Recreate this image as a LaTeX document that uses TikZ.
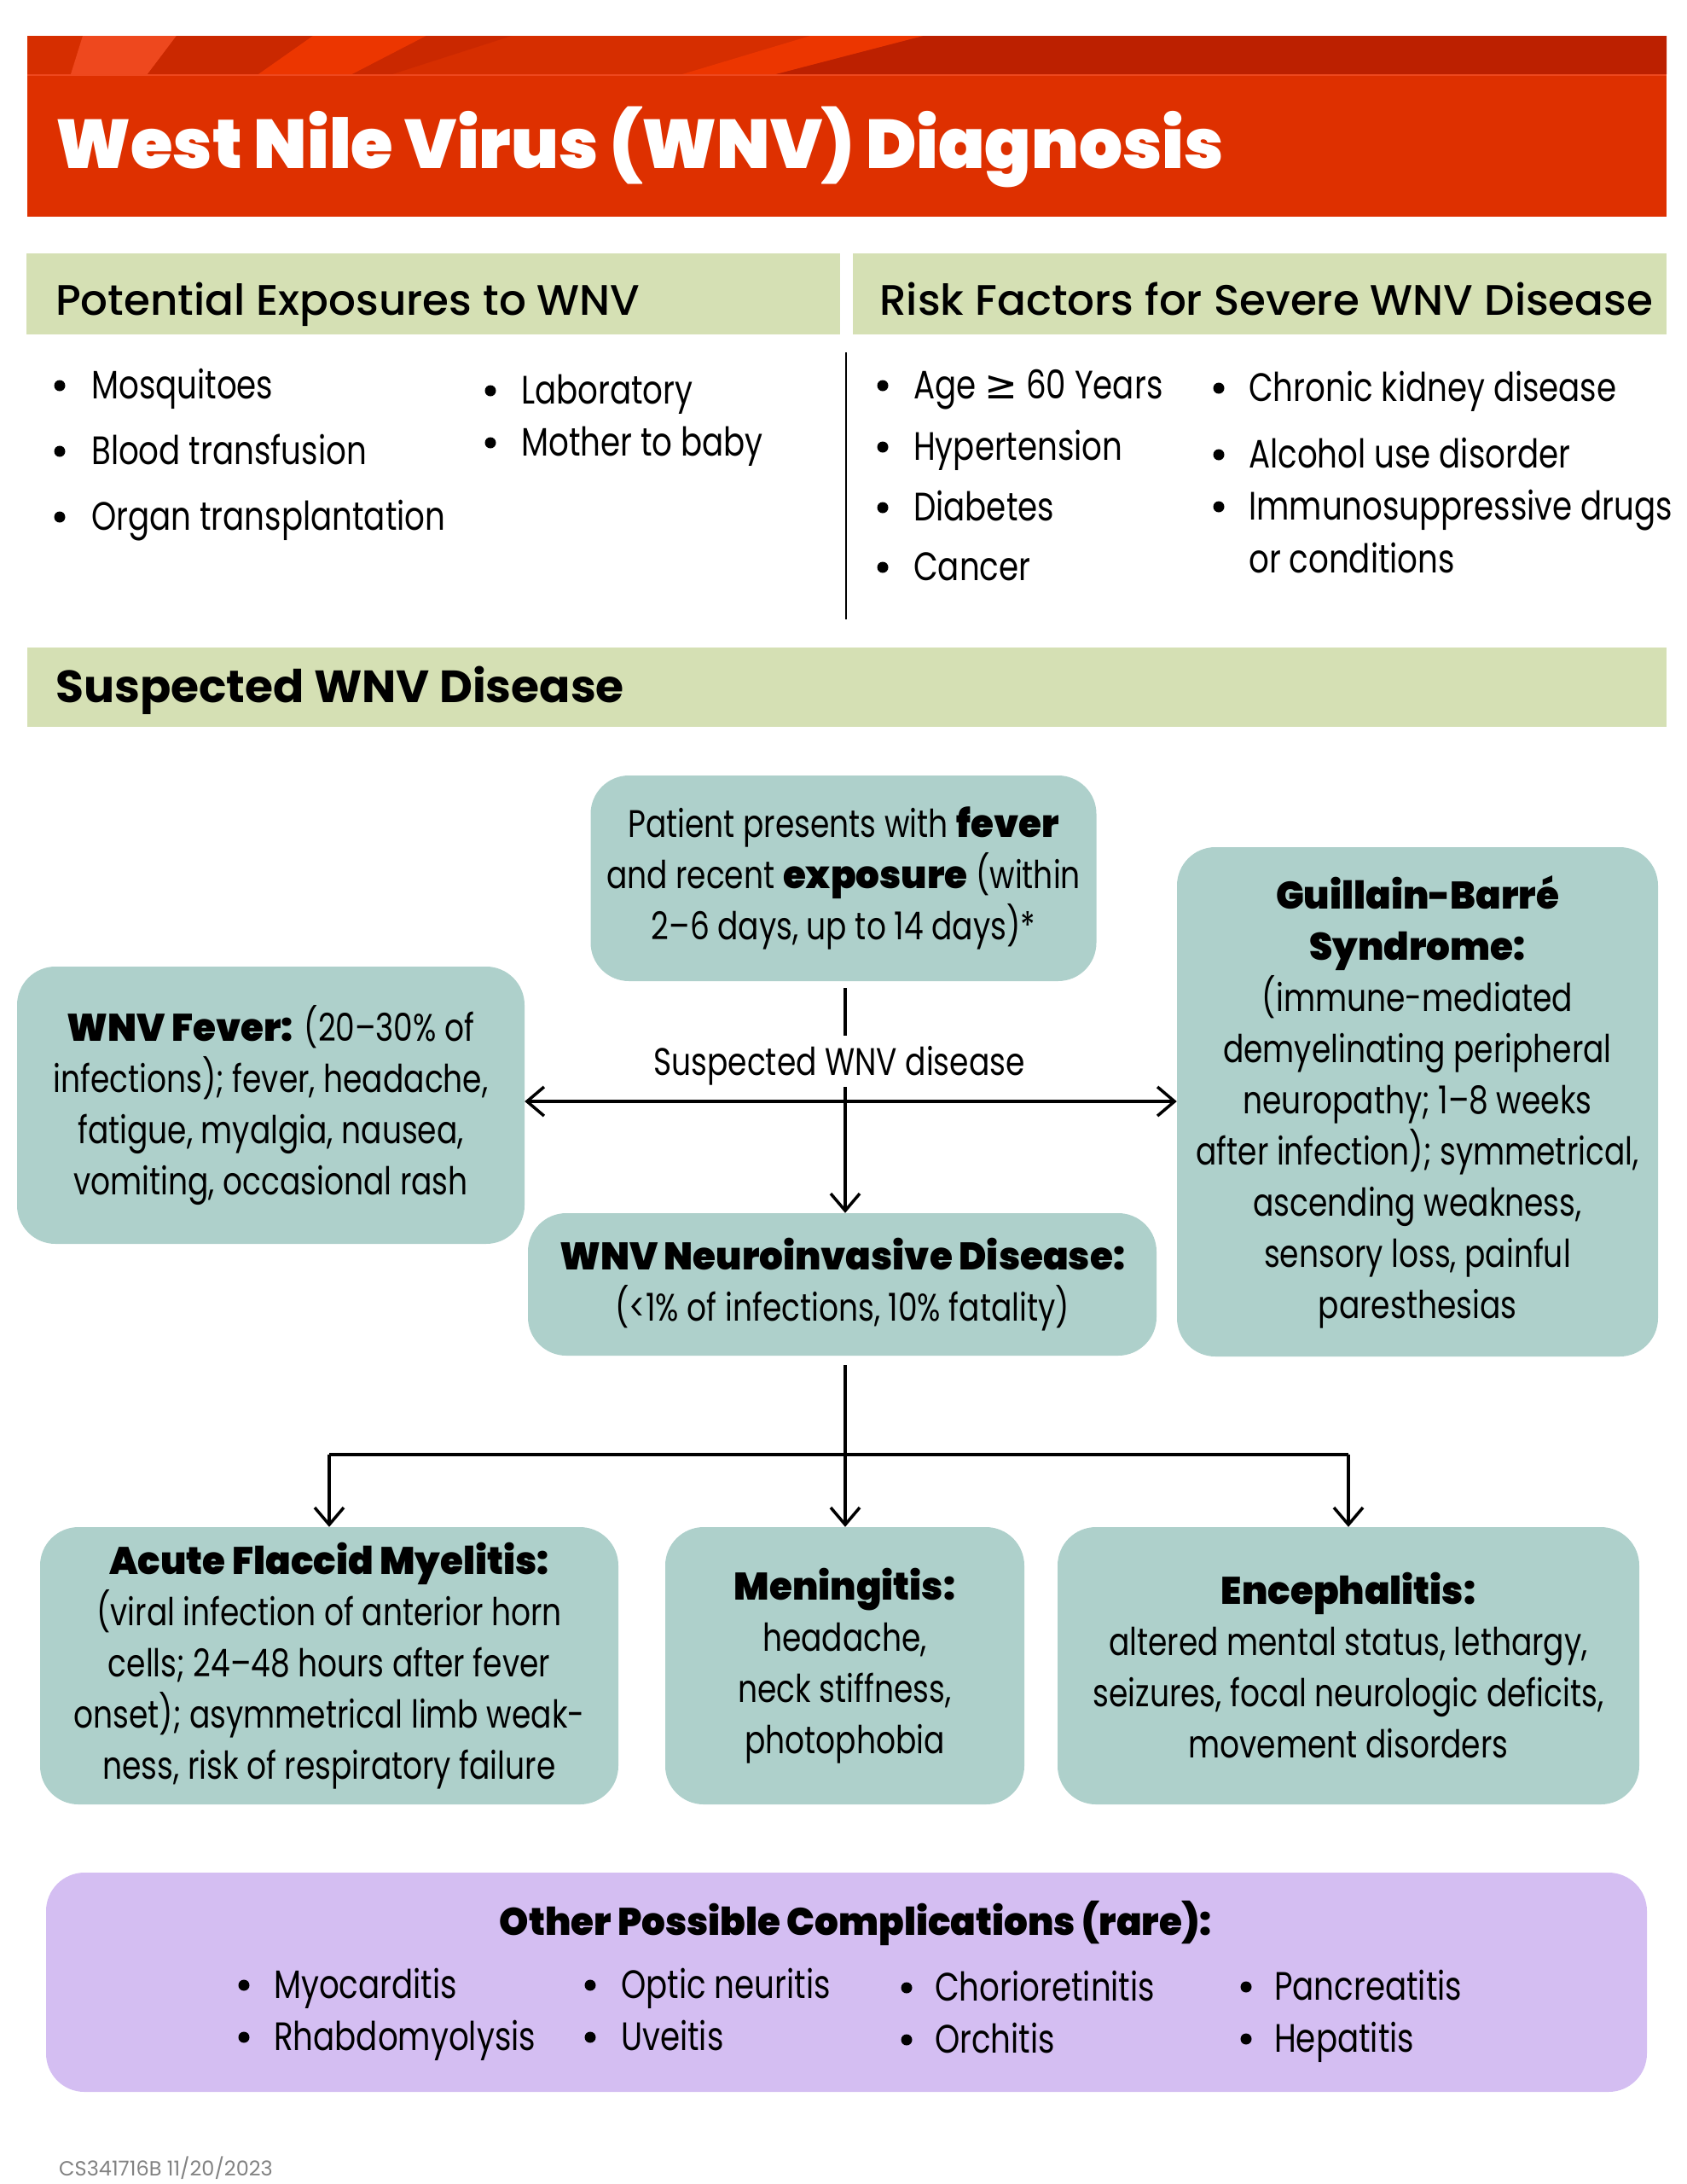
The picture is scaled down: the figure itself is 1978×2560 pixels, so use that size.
\documentclass[tikz,border=0pt]{standalone}
\usepackage{fontspec}
\setmainfont{Poppins}[UprightFeatures={FakeStretch=0.8}, BoldFont=* Black, BoldFeatures={FakeStretch=0.97}]
\newfontfamily\headfont{Poppins Medium}[FakeStretch=1.0]
\newfontfamily\semifont{Poppins Bold}[FakeStretch=1.01]
\newfontfamily\titlefont{Poppins Black}[FakeStretch=0.99]
\newfontfamily\footfont{Poppins}
\newfontfamily\symfont{DejaVu Sans}
\usetikzlibrary{arrows.meta}
\definecolor{boxteal}{RGB}{174,208,203}
\definecolor{bandgreen}{RGB}{213,224,180}
\definecolor{boxpurple}{RGB}{212,190,242}
\definecolor{redmain}{RGB}{222,48,0}
\definecolor{redmed}{RGB}{214,46,0}
\definecolor{redlight}{RGB}{238,72,30}
\definecolor{redtwo}{RGB}{202,40,0}
\definecolor{redbright}{RGB}{236,54,0}
\definecolor{reddark}{RGB}{188,32,0}
\definecolor{footgray}{RGB}{130,130,130}
\newcommand\bodyfont{\fontsize{45}{60}\selectfont}
\newcommand\listfont{\fontsize{46.5}{60}\selectfont}
\newcommand\bitem[5]{%
  \node[dot] (#5dot) at (#1,#3-15) {};
  \node[txt] (#5) at (#2,#3) {#4};}
\begin{document}
\begin{tikzpicture}[x=1pt,y=-1pt,
  txt/.style={inner sep=0pt, anchor=base west, font=\listfont},
  dot/.style={circle, fill=black, inner sep=0pt, minimum size=13pt},
  box/.style={fill=boxteal, rounded corners=45pt, align=center, font=\bodyfont, inner sep=0pt},
  conn/.style={line width=3.5pt, black},
  arr/.style={conn, -{Straight Barb[length=20pt, width=34pt]}},
  darr/.style={conn, {Straight Barb[length=20pt, width=34pt]}-{Straight Barb[length=20pt, width=34pt]}},
]
\useasboundingbox (0,0) rectangle (1978,2560);
% header band
\fill[redmain] (32,87) rectangle (1954,254);
\fill[redmed] (32,42) rectangle (1954,87);
\fill[redlight] (83,87) -- (173,87) -- (207,42) -- (97,42) -- cycle;
\fill[redtwo] (173,87) -- (303,87) -- (367,42) -- (207,42) -- cycle;
\fill[redbright] (303,87) -- (413,87) -- (500,42) -- (367,42) -- cycle;
\fill[redtwo] (413,87) -- (460,87) -- (600,42) -- (500,42) -- cycle;
\fill[redbright] (800,87) -- (910,87) -- (1083,42) -- (950,42) -- cycle;
\fill[reddark] (910,87) -- (1954,87) -- (1954,42) -- (1083,42) -- cycle;
\draw[redlight, line width=2pt] (32,88) -- (1954,88);
\node[txt, text=white, font=\titlefont\fontsize{81}{90}\selectfont] (title) at (65,197) {West Nile Virus (WNV) Diagnosis};
% section headers
\fill[bandgreen] (31,297) rectangle (985,392);
\fill[bandgreen] (1000,297) rectangle (1954,392);
\node[txt, font=\headfont\fontsize{50}{60}\selectfont] (hexp) at (65,369) {Potential Exposures to WNV};
\node[txt, font=\headfont\fontsize{50}{60}\selectfont] (hrisk) at (1031,369) {Risk Factors for Severe WNV Disease};
% exposures
\bitem{70}{107}{467}{Mosquitoes}{e1}
\bitem{70}{107}{544}{Blood transfusion}{e2}
\bitem{70}{107}{621}{Organ transplantation}{e3}
\bitem{575}{611}{473}{Laboratory}{e4}
\bitem{575}{611}{534}{Mother to baby}{e5}
\draw[line width=1.5pt] (992,413) -- (992,726);
% risk factors
\bitem{1035}{1071}{467}{Age {\symfont ≥} 60 Years}{r1}
\bitem{1035}{1071}{539}{Hypertension}{r2}
\bitem{1035}{1071}{610}{Diabetes}{r3}
\bitem{1035}{1071}{680}{Cancer}{r4}
\bitem{1429}{1464}{470}{Chronic kidney disease}{r5}
\bitem{1429}{1464}{548}{Alcohol use disorder}{r6}
\bitem{1429}{1464}{609}{Immunosuppressive drugs}{r7}
\node[txt] (r8) at (1464,671) {or conditions};
% suspected band
\fill[bandgreen] (32,759) rectangle (1954,852);
\node[txt, font=\semifont\fontsize{53}{60}\selectfont] (hsus) at (65,823) {Suspected WNV Disease};
% flow boxes
\node[box, minimum width=593pt, minimum height=241pt] (top) at (989,1029.5)
  {Patient presents with \textbf{fever}\\and recent \textbf{exposure} (within\\2–6 days, up to 14 days)*};
\node[box, minimum width=564pt, minimum height=597pt] (gbs) at (1662,1291.5)
  {\textbf{Guillain-Barré}\\\textbf{Syndrome:}\\(immune-mediated\\demyelinating peripheral\\neuropathy; 1–8 weeks\\after infection); symmetrical,\\ascending weakness,\\sensory loss, painful\\paresthesias};
\node[box, minimum width=595pt, minimum height=325pt] (fev) at (317.5,1295.5)
  {\textbf{WNV Fever:} (20–30\% of\\infections); fever, headache,\\fatigue, myalgia, nausea,\\vomiting, occasional rash};
\node[box, minimum width=737pt, minimum height=167pt] (neuro) at (987.5,1505.5)
  {\textbf{WNV Neuroinvasive Disease:}\\(<1\% of infections, 10\% fatality)};
\node[box, minimum width=678pt, minimum height=325pt] (afm) at (386,1952.5)
  {\textbf{Acute Flaccid Myelitis:}\\(viral infection of anterior horn\\cells; 24–48 hours after fever\\onset); asymmetrical limb weak-\\ness, risk of respiratory failure};
\node[box, minimum width=421pt, minimum height=325pt] (men) at (990.5,1952.5)
  {\textbf{Meningitis:}\\headache,\\neck stiffness,\\photophobia};
\node[box, minimum width=682pt, minimum height=325pt] (enc) at (1581,1952.5)
  {\textbf{Encephalitis:}\\altered mental status, lethargy,\\seizures, focal neurologic deficits,\\movement disorders};
% connectors
\node[inner sep=0pt, font=\bodyfont, anchor=base] (lab) at (984,1260) {Suspected WNV disease};
\coordinate (v1) at (991,1158);
\coordinate (v2) at (991,1214);
\coordinate (v3) at (991,1274);
\coordinate (hy) at (991,1291);
\draw[conn] (v1) -- (v2);
\draw[arr] (v3) -- (v3 |- neuro.north);
\draw[darr] (fev.east |- hy) -- (gbs.west |- hy);
\coordinate (n1) at (991,1600);
\coordinate (n2) at (991,1705);
\draw[arr] (n1) -- (n1 |- men.north);
\draw[conn] (afm.north |- n2) -- (enc.north |- n2);
\draw[arr] (afm.north |- n2) -- (afm.north);
\draw[arr] (enc.north |- n2) -- (enc.north);
% complications
\node[fill=boxpurple, rounded corners=45pt, minimum width=1877pt, minimum height=257pt, inner sep=0pt] (comp) at (992.5,2323.5) {};
\node[inner sep=0pt, font=\bodyfont\bfseries, anchor=base] (ctitle) at (1003,2268) {Other Possible Complications (rare):};
\bitem{286}{321}{2342}{Myocarditis}{c1}
\bitem{286}{321}{2403}{Rhabdomyolysis}{c2}
\bitem{692}{728}{2342}{Optic neuritis}{c3}
\bitem{692}{728}{2403}{Uveitis}{c4}
\bitem{1063}{1096}{2345}{Chorioretinitis}{c5}
\bitem{1063}{1096}{2406}{Orchitis}{c6}
\bitem{1461}{1494}{2344}{Pancreatitis}{c7}
\bitem{1461}{1494}{2405}{Hepatitis}{c8}
% footer
\node[txt, text=footgray, font=\footfont\fontsize{24}{26}\selectfont] (foot) at (69,2550) {CS341716B 11/20/2023};
\end{tikzpicture}
\end{document}
